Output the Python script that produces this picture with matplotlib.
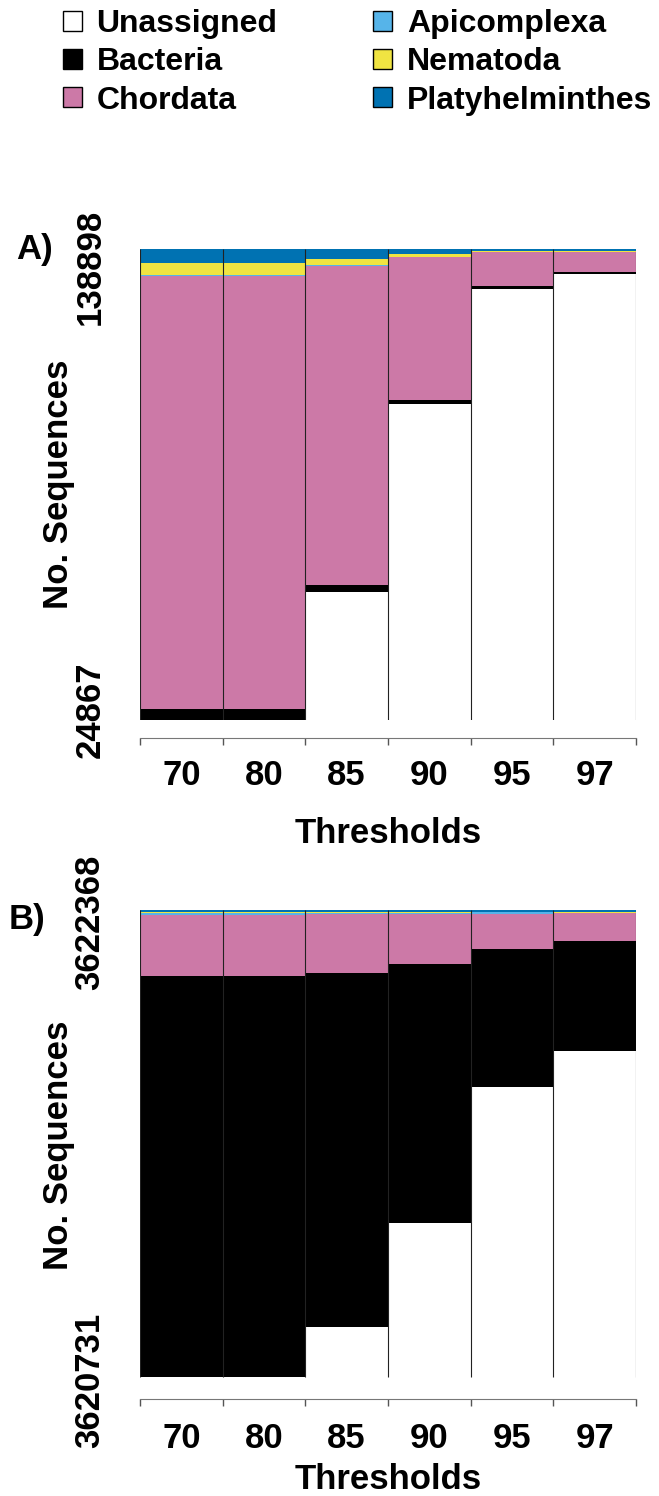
import matplotlib.pyplot as plt
import numpy as np
from matplotlib.patches import Patch

plt.rcParams['font.family'] = ['Liberation Sans', 'DejaVu Sans']
plt.rcParams['font.weight'] = 'bold'

# categories
thresholds = ['70', '80', '85', '90', '95', '97']
taxa = ['Unassigned', 'Bacteria', 'Chordata', 'Apicomplexa', 'Nematoda', 'Platyhelminthes']
colors = ['#FFFFFF', '#000000', '#CC79A7', '#56B4E9', '#F0E442', '#0072B2']

# panel A, percent of sequences per threshold (bottom to top)
unassigned_a = [0.0, 0.0, 27.2, 67.1, 91.6, 94.8]
bacteria_a = [2.3, 2.3, 1.4, 0.85, 0.57, 0.42]
chordata_a = [92.0, 92.0, 67.8, 30.4, 7.2, 4.1]
apicomplexa_a = [0.1, 0.1, 0.1, 0.05, 0.03, 0.03]
nematoda_a = [2.6, 2.6, 1.4, 0.57, 0.21, 0.28]
platy_a = [3.0, 3.0, 2.1, 1.06, 0.49, 0.42]
ylabels_a = ['24867', '138898']

# panel B
unassigned_b = [0.0, 0.0, 10.8, 32.9, 62.1, 69.8]
bacteria_b = [85.8, 85.8, 75.6, 55.4, 29.6, 23.5]
chordata_b = [13.1, 13.1, 12.8, 10.8, 7.4, 6.1]
apicomplexa_b = [0.4, 0.4, 0.2, 0.2, 0.4, 0.05]
nematoda_b = [0.15, 0.15, 0.15, 0.15, 0.05, 0.15]
platy_b = [0.42, 0.42, 0.42, 0.42, 0.42, 0.42]
ylabels_b = ['3620731', '3622368']

FS = 25

fig = plt.figure(figsize=(6.59, 14.96), dpi=100)
W, H = 659, 1496


def draw_panel(ax, values, ylabels, ytick_pos, tag, tag_xy, lab_pad, title_y):
    stack = np.array(values, dtype=float)
    stack = stack / stack.sum(axis=0)
    x = np.arange(len(thresholds))
    bottom = np.zeros(len(thresholds))
    for row, c in zip(stack, colors):
        ax.bar(x, row, width=1.0, bottom=bottom, color=c, edgecolor='none', linewidth=0)
        bottom += row
    edges = np.arange(len(thresholds) + 1) - 0.5
    ax.vlines(edges, 0, 1, color='#222222', lw=0.8)
    ax.set_xlim(edges[0], edges[-1])
    ax.set_ylim(0, 1)

    for s in ['top', 'right', 'left']:
        ax.spines[s].set_visible(False)
    ax.spines['bottom'].set_position(('outward', 13))
    ax.spines['bottom'].set_bounds(edges[0], edges[-1])
    ax.spines['bottom'].set_color('#777777')

    ax.set_xticks(edges, labels=[''] * len(edges))
    ax.set_xticks(x, labels=thresholds, minor=True)
    ax.tick_params(axis='x', which='major', length=5, width=1, color='#555555')
    ax.tick_params(axis='x', which='minor', length=0, pad=lab_pad, labelsize=FS)

    ax.set_yticks(ytick_pos, labels=ylabels)
    ax.tick_params(axis='y', length=0, pad=24, labelsize=FS)
    for t in ax.get_yticklabels():
        t.set_rotation(90)
        t.set_va('center')

    ax.text(0.5, title_y, 'Thresholds', transform=ax.transAxes, ha='center',
            va='top', fontsize=FS, fontweight='bold')
    ax.text(-0.165, 0.5, 'No. Sequences', transform=ax.transAxes, rotation=90,
            ha='center', va='center', fontsize=FS, fontweight='bold')
    ax.text(tag_xy[0], tag_xy[1], tag, transform=ax.transAxes, ha='center',
            va='center', fontsize=FS, fontweight='bold')


ax_a = fig.add_axes([140 / W, 1 - 719.7 / H, 496 / W, 470.7 / H])
draw_panel(ax_a, [unassigned_a, bacteria_a, chordata_a, apicomplexa_a, nematoda_a, platy_a],
           ylabels_a, [0.021, 0.963], 'A)', (-0.212, 1.0), 15, -0.207)

ax_b = fig.add_axes([140 / W, 1 - 1380.7 / H, 496 / W, 470.7 / H])
draw_panel(ax_b, [unassigned_b, bacteria_b, chordata_b, apicomplexa_b, nematoda_b, platy_b],
           ylabels_b, [-0.007, 0.974], 'B)', (-0.228, 0.979), 17, -0.175)

handles = [Patch(facecolor=c, edgecolor='black', linewidth=1) for c in colors]
fig.legend(handles, taxa, loc='upper left', bbox_to_anchor=(63 / W, 1 - 9 / H),
           ncol=2, frameon=False, fontsize=23, borderpad=0, borderaxespad=0,
           handlelength=0.6, handleheight=0.6, handletextpad=0.45,
           columnspacing=3.0, labelspacing=0.26)

fig.savefig('out.png', dpi=100)
